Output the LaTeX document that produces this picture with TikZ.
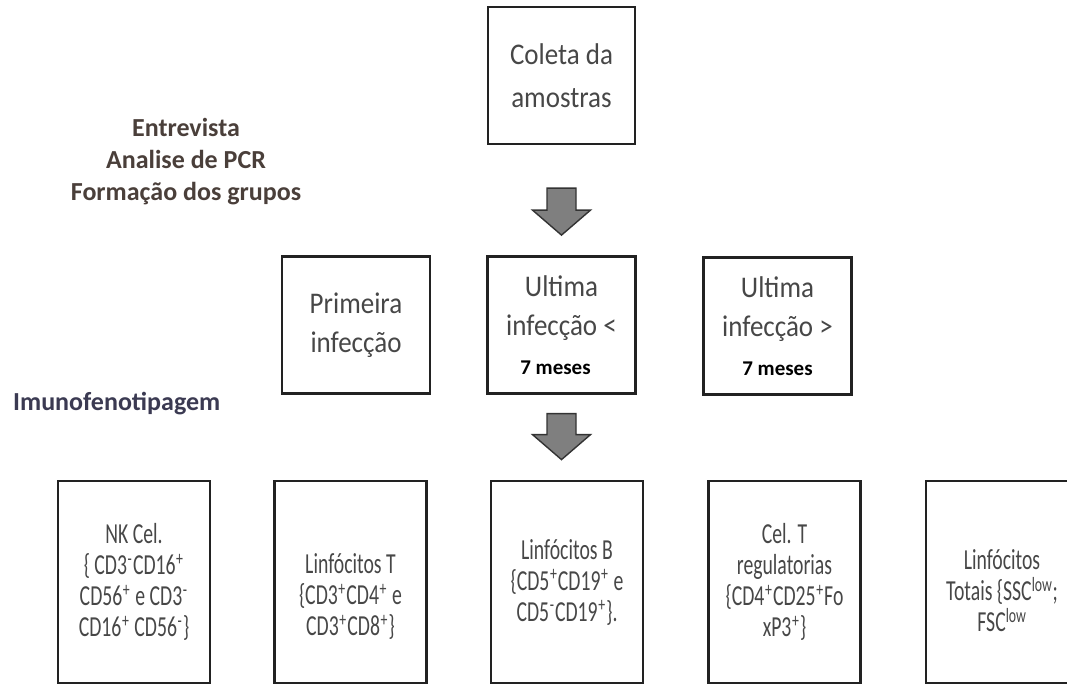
\documentclass[tikz,border=0pt]{standalone}
\usepackage{fontspec}
\setmainfont{Carlito}
\newfontfamily\boxfont[FakeStretch=0.9]{Carlito}
\newfontfamily\narrowfont[FakeStretch=0.68]{Carlito}
\usetikzlibrary{positioning}

\definecolor{boxline}{HTML}{222222}
\definecolor{boxtext}{HTML}{474747}
\definecolor{headbrown}{HTML}{4A3F3A}
\definecolor{headblue}{HTML}{3B3A52}
\definecolor{arrowfill}{HTML}{7F7F7F}
\definecolor{arrowline}{HTML}{333333}

\newcommand{\cdpos}{\kern0.6pt\textsuperscript{+}\kern0.6pt}
\newcommand{\cdneg}{\kern0.6pt\textsuperscript{-}\kern0.6pt}

\begin{document}
\begin{tikzpicture}[x=1pt, y=-1pt,
					box/.style={draw=boxline, line width=2.2pt, inner sep=0pt, align=center, text=boxtext},
					top box/.style={box, minimum width=147pt, minimum height=137pt,
						font=\boxfont\fontsize{30}{43}\selectfont},
					group box/.style={box, minimum width=148pt, minimum height=137pt,
						font=\boxfont\fontsize{30}{39}\selectfont},
					cell box/.style={box, minimum width=152pt, minimum height=202pt,
						font=\narrowfont\fontsize{29}{31}\selectfont},
					head/.style={inner sep=0pt, align=center, text=headbrown,
						font=\bfseries\fontsize{26}{32}\selectfont},
					block arrow/.style={draw=arrowline, fill=arrowfill, line width=1.4pt}]

  \clip (0,0) rectangle (1067,685);

  % etapas
  \node[head] (etapas) at (186,162) {Entrevista\\Analise de PCR\\Formação dos grupos};
  \node[head, text=headblue, anchor=base west] (imuno) at (13,410) {Imunofenotipagem};

  % coleta e grupos
  \node[top box] (coleta) at (561.5,75.5) {Coleta da\\amostras};
  \node[group box] (primeira) at (356,325) {Primeira\\infecção};
  \node[group box] (ultmenor) at (561.5,325)
    {Ultima\\infecção <\\{\color{black}\rmfamily\bfseries\fontsize{21}{38}\selectfont 7 meses\kern12pt}};
  \node[group box] (ultmaior) at (777.5,326)
    {Ultima\\infecção >\\{\color{black}\rmfamily\bfseries\fontsize{21}{38}\selectfont 7 meses}};

  % celulas
  \node[cell box] (nk) at (134,582)
    {NK Cel.\\\{ CD3\cdneg CD16\cdpos\\CD56\cdpos{} e CD3\cdneg\\CD16\cdpos{} CD56\cdneg\}};
  \node[cell box] (lint) at (350.5,582)
    {\rule{0pt}{48pt}Linfócitos T\\\{CD3\cdpos CD4\cdpos{} e\\CD3\cdpos CD8\cdpos\}};
  \node[cell box] (linb) at (567,582)
    {Linfócitos B\\\{CD5\cdpos CD19\cdpos{} e\\CD5\cdneg CD19\cdpos\}.};
  \node[cell box] (celt) at (784.5,582)
    {Cel. T\\regulatorias\\\{CD4\cdpos CD25\cdpos Fo\\xP3\cdpos\}};
  \node[cell box] (totais) at (1002,582)
    {\rule{0pt}{38pt}Linfócitos\\Totais \{SSC\textsuperscript{low};\\FSC\textsuperscript{low}};

  % setas
  \coordinate[below=43pt of coleta.south] (seta1);
  \coordinate[below=19pt of ultmenor.south] (seta2);
  \draw[block arrow] (seta1) ++(-14.5,0) -- ++(29,0) -- ++(0,22) -- ++(14.5,0)
    -- ++(-29,25) -- ++(-29,-25) -- ++(14.5,0) -- cycle;
  \draw[block arrow] (seta2) ++(-14.5,0) -- ++(29,0) -- ++(0,21) -- ++(14.5,0)
    -- ++(-29,25) -- ++(-29,-25) -- ++(14.5,0) -- cycle;
\end{tikzpicture}
\end{document}
